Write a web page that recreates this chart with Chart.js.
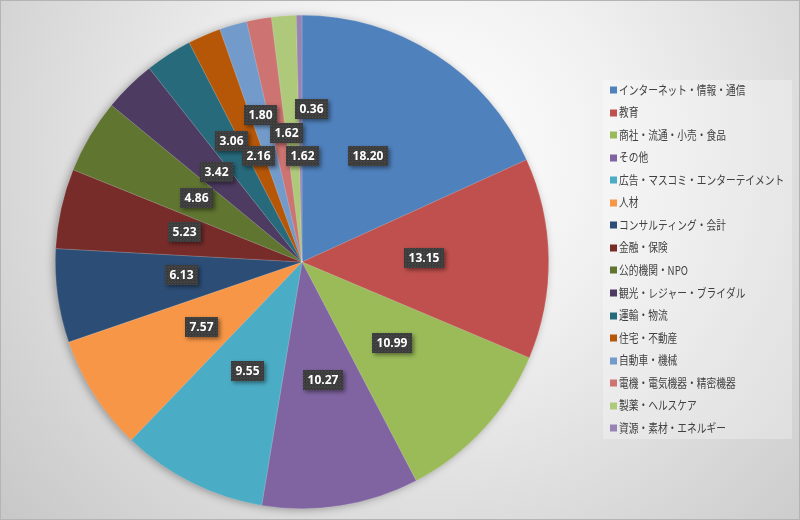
<!DOCTYPE html>
<html><head><meta charset="utf-8">
<script src="https://cdn.jsdelivr.net/npm/chart.js@4.4.0/dist/chart.umd.min.js"></script>
<style>html,body{margin:0;padding:0;background:#d0d0d0;overflow:hidden}</style>
</head><body>
<canvas id="c" width="800" height="520"></canvas>
<script>
const categories = ['インターネット・情報・通信','教育','商社・流通・小売・食品','その他','広告・マスコミ・エンターテイメント','人材','コンサルティング・会計','金融・保険','公的機関・NPO','観光・レジャー・ブライダル','運輸・物流','住宅・不動産','自動車・機械','電機・電気機器・精密機器','製薬・ヘルスケア','資源・素材・エネルギー'];
const shares = [18.20,13.15,10.99,10.27,9.55,7.57,6.13,5.23,4.86,3.42,3.06,2.16,1.80,1.62,1.62,0.36];
const colors = ['#4F81BD','#C0504D','#9BBB59','#8064A2','#4BACC6','#F79646','#2C4D75','#772C2A','#5F7530','#4D3B62','#276A7C','#B65708','#729ACA','#CD7371','#AFC97A','#9983B5'];
// label placement: fraction of radius and angular nudge (degrees)
const labelRadius = [0.505,0.494,0.49,0.486,0.494,0.486,0.49,0.49,0.50,0.504,0.568,0.463,0.62,0.526,0.43,0.62];
const labelShift  = [-0.9,-1.3,-0.6,-1,0.2,-0.2,1.8,1.9,0.7,0.7,2.4,0.8,0.3,3.0,4.3,4.2];

const pat = document.createElement('canvas'); pat.width = 3; pat.height = 3;
(function(){const p = pat.getContext('2d'); p.fillStyle='#3b3b3b'; p.fillRect(0,0,3,3); p.fillStyle='#4c4c4c'; p.fillRect(0,0,1,1); p.fillRect(1,2,1,1);})();

const bgPlugin = {
  id:'bg',
  beforeDraw(chart){
    const ctx = chart.ctx, W = chart.width, H = chart.height;
    ctx.save();
    const g = ctx.createRadialGradient(430,150,0,430,150,560);
    g.addColorStop(0,'#ffffff');
    g.addColorStop(0.35,'#f0f0f0');
    g.addColorStop(1,'#c8c8c8');
    ctx.fillStyle = g; ctx.fillRect(0,0,W,H);
    ctx.strokeStyle = '#b4b4b4'; ctx.lineWidth = 1;
    ctx.strokeRect(0.5,0.5,W-1,H-1);
    ctx.fillStyle = 'rgba(255,255,255,0.28)';
    ctx.fillRect(603,80,189,359);
    ctx.restore();
  },
  beforeDatasetsDraw(chart){
    const arc = chart.getDatasetMeta(0).data[0];
    if(!arc) return;
    const ctx = chart.ctx;
    ctx.save();
    ctx.shadowColor = 'rgba(0,0,0,0.35)';
    ctx.shadowBlur = 9; ctx.shadowOffsetX = -2; ctx.shadowOffsetY = 1;
    ctx.fillStyle = '#888';
    ctx.beginPath(); ctx.arc(arc.x, arc.y, arc.outerRadius-0.5, 0, Math.PI*2); ctx.fill();
    ctx.restore();
  },
  afterDatasetsDraw(chart){
    const ctx = chart.ctx;
    const meta = chart.getDatasetMeta(0);
    const vals = chart.data.datasets[0].data;
    const pattern = ctx.createPattern(pat,'repeat');
    ctx.save();
    ctx.font = 'bold 12px "Open Sans", "DejaVu Sans", sans-serif';
    ctx.textAlign = 'center'; ctx.textBaseline = 'middle';
    meta.data.forEach((a,i)=>{
      const mid = (a.startAngle + a.endAngle)/2 + labelShift[i]*Math.PI/180;
      const r = a.outerRadius*labelRadius[i];
      const x = a.x + Math.cos(mid)*r, y = a.y + Math.sin(mid)*r;
      const txt = vals[i].toFixed(2);
      const w = Math.round(ctx.measureText(txt).width) + 9, h = 20;
      const bx = Math.round(x - w/2), by = Math.round(y - h/2);
      ctx.save();
      ctx.shadowColor = 'rgba(0,0,0,0.45)'; ctx.shadowBlur = 4; ctx.shadowOffsetX = 2; ctx.shadowOffsetY = 2;
      ctx.fillStyle = pattern; ctx.fillRect(bx,by,w,h);
      ctx.restore();
      ctx.fillStyle = '#ffffff';
      ctx.fillText(txt, bx + w/2, by + h/2 + 0.5);
    });
    ctx.restore();
  },
  afterDraw(chart){
    const ctx = chart.ctx;
    const labels = chart.data.labels, cols = chart.data.datasets[0].backgroundColor;
    ctx.save();
    ctx.font = '12px "Noto Sans CJK JP", sans-serif';
    ctx.textBaseline = 'middle'; ctx.textAlign = 'left';
    labels.forEach((t,i)=>{
      const y = 90 + i*22.55;
      ctx.fillStyle = cols[i];
      ctx.fillRect(610, Math.round(y)-3.5, 7, 7);
      ctx.fillStyle = '#404040';
      const w = ctx.measureText(t).width;
      ctx.fillText(t, 619, y, w*0.81);
    });
    ctx.restore();
  }
};

new Chart(document.getElementById('c'), {
  type:'pie',
  data:{ labels: categories, datasets:[{ data: shares, backgroundColor: colors, borderWidth: 0.6, borderColor:'rgba(255,255,255,0.25)' }] },
  options:{
    responsive:false, animation:false, devicePixelRatio:1,
    layout:{padding:{left:55,right:251,top:15,bottom:11}},
    plugins:{legend:{display:false}, tooltip:{enabled:false}}
  },
  plugins:[bgPlugin]
});
</script>
</body></html>
